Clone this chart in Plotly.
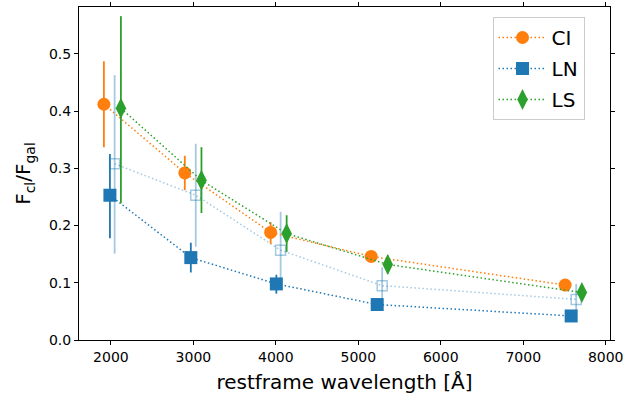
import plotly.graph_objects as go

# restframe wavelengths (slightly offset per sample) and flux fractions
ci_wave = [1915, 2896, 3937, 5156, 7508]
ci_frac = [0.412, 0.292, 0.188, 0.146, 0.096]
ci_err_hi = [0.075, 0.030, 0.018, 0.008, 0.006]
ci_err_lo = [0.075, 0.030, 0.020, 0.008, 0.006]

ln_wave = [1988, 2969, 4006, 5229, 7581]
ln_frac = [0.253, 0.144, 0.098, 0.062, 0.042]
ln_err_hi = [0.072, 0.026, 0.016, 0.005, 0.004]
ln_err_lo = [0.075, 0.026, 0.017, 0.005, 0.004]

ln_all_wave = [2045, 3029, 4058, 5289, 7642]
ln_all_frac = [0.308, 0.253, 0.157, 0.095, 0.071]
ln_all_err_hi = [0.155, 0.090, 0.067, 0.032, 0.027]
ln_all_err_lo = [0.157, 0.090, 0.067, 0.032, 0.020]

ls_wave = [2121, 3098, 4131, 5357, 7711]
ls_frac = [0.405, 0.279, 0.186, 0.132, 0.083]
ls_err_hi = [0.161, 0.058, 0.032, 0.016, 0.012]
ls_err_lo = [0.166, 0.057, 0.032, 0.016, 0.012]

ORANGE = "#ff7f0e"
BLUE = "#1f77b4"
GREEN = "#2ca02c"
LIGHT = "rgba(31,119,180,0.4)"
DOT = "1.5px,2.5px"


def err(hi, lo, color):
    return dict(type="data", symmetric=False, array=hi, arrayminus=lo,
                color=color, thickness=1.8, width=0)


fig = go.Figure()
fig.add_trace(go.Scatter(
    x=ln_all_wave, y=ln_all_frac, mode="lines+markers", showlegend=False,
    line=dict(color=LIGHT, dash=DOT, width=1.5),
    marker=dict(symbol="square-open", size=10, color=LIGHT, line=dict(width=1.5)),
    error_y=err(ln_all_err_hi, ln_all_err_lo, LIGHT),
))
fig.add_trace(go.Scatter(
    x=ci_wave, y=ci_frac, mode="lines+markers", name="CI", legendgroup="ci",
    line=dict(color=ORANGE, dash=DOT, width=1.5),
    marker=dict(symbol="circle", size=13, color=ORANGE),
    error_y=err(ci_err_hi, ci_err_lo, ORANGE),
))
fig.add_trace(go.Scatter(
    x=ln_wave, y=ln_frac, mode="lines+markers", name="LN", legendgroup="ln",
    line=dict(color=BLUE, dash=DOT, width=1.5),
    marker=dict(symbol="square", size=13, color=BLUE),
    error_y=err(ln_err_hi, ln_err_lo, BLUE),
))
fig.add_trace(go.Scatter(
    x=ls_wave, y=ls_frac, mode="lines+markers", name="LS", legendgroup="ls",
    line=dict(color=GREEN, dash=DOT, width=1.5),
    marker=dict(symbol="diamond-tall", size=15, color=GREEN),
    error_y=err(ls_err_hi, ls_err_lo, GREEN),
))

axis_style = dict(
    showline=True, linecolor="black", linewidth=1, mirror="allticks",
    ticks="outside", ticklen=4, tickcolor="black", showgrid=False,
    zeroline=False, tickfont=dict(size=14, color="black"), automargin=False,
)
fig.update_layout(
    width=637, height=399,
    margin=dict(l=79, r=27, t=7, b=59),
    plot_bgcolor="white", paper_bgcolor="white",
    font=dict(family="DejaVu Sans", color="black"),
    xaxis=dict(range=[1613, 8052], tickvals=[2000, 3000, 4000, 5000, 6000, 7000, 8000],
               title=dict(text="restframe wavelength [Å]", font=dict(size=20), standoff=11),
               **axis_style),
    yaxis=dict(range=[0, 0.582], tickvals=[0, 0.1, 0.2, 0.3, 0.4, 0.5],
               tickformat=".1f",
               title=dict(text="F<sub>cl</sub>/F<sub>gal</sub>", font=dict(size=20), standoff=12),
               **axis_style),
    legend=dict(x=0.952, y=0.97, xanchor="right", yanchor="top",
                bgcolor="white", bordercolor="#cccccc", borderwidth=1,
                font=dict(size=20), tracegroupgap=2, itemwidth=48),
)

fig.write_html("out.html", config={"displayModeBar": False},
               post_script="document.body.style.margin='0';")
